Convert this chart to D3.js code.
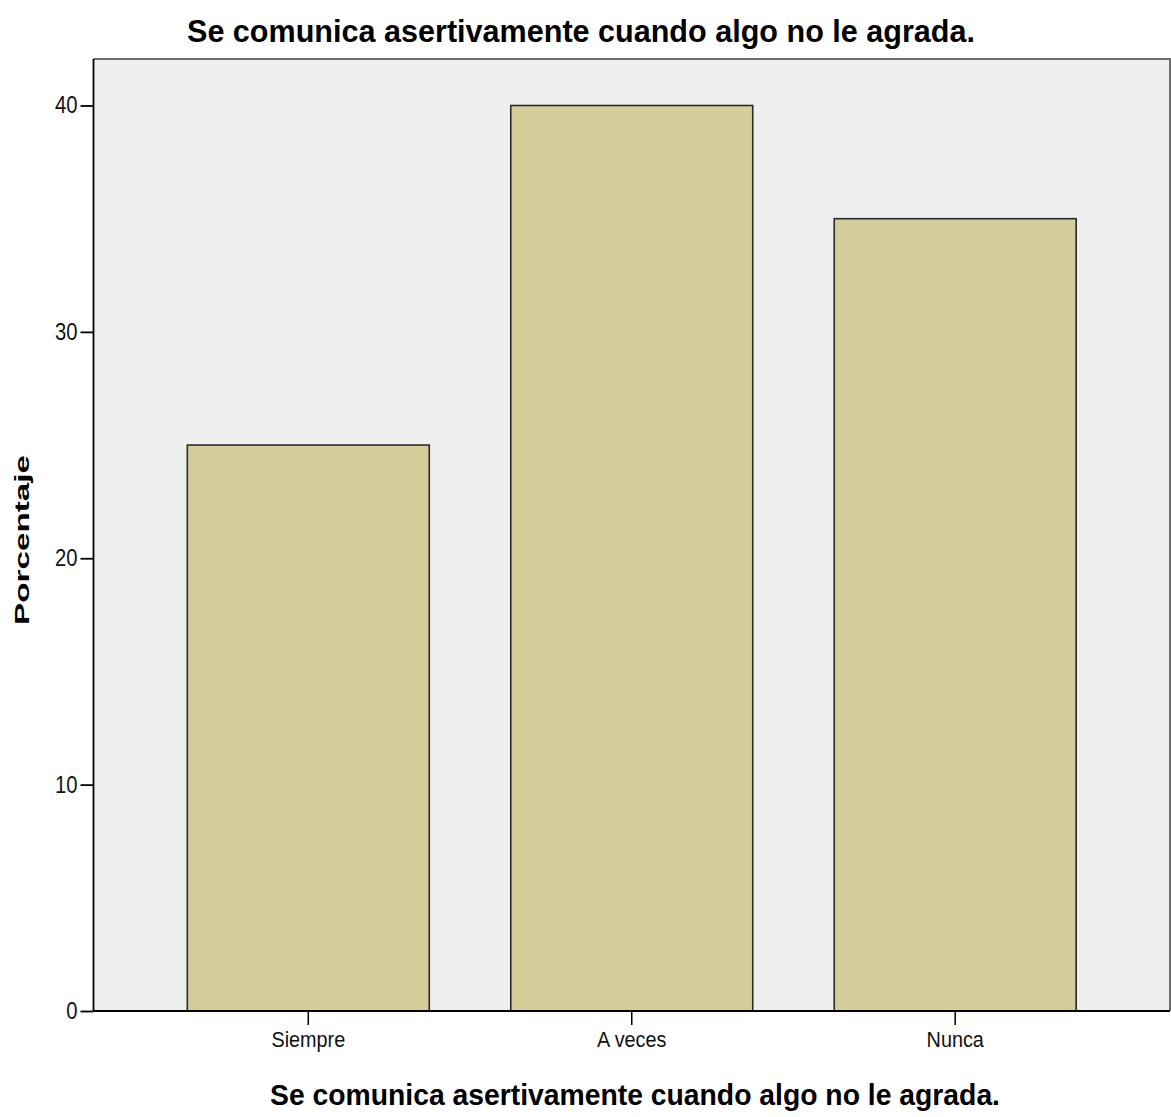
<!DOCTYPE html>
<html>
<head>
<meta charset="utf-8">
<script src="https://cdn.jsdelivr.net/npm/d3@7"></script>
<style>
html,body{margin:0;padding:0;background:#fff;}
svg{display:block;}
</style>
</head>
<body>
<script>
const categories = ["Siempre", "A veces", "Nunca"];
const values = [25, 40, 35];
const yTicks = [0, 10, 20, 30, 40];
const titleText = "Se comunica asertivamente cuando algo no le agrada.";
const xLabelText = "Se comunica asertivamente cuando algo no le agrada.";
const yLabelText = "Porcentaje";

const W = 1171, H = 1117;
const plot = {left: 93.5, right: 1170, top: 59, bottom: 1011};

const svg = d3.select("body").append("svg").attr("width", W).attr("height", H);

const x = d3.scaleBand().domain(categories)
  .range([plot.left, plot.right]).paddingInner(0.252).paddingOuter(0.29);
const y = d3.scaleLinear().domain([0, 40]).range([plot.bottom, 105.5]);

svg.append("rect").attr("x", plot.left).attr("y", plot.top)
  .attr("width", plot.right - plot.left).attr("height", plot.bottom - plot.top)
  .attr("fill", "#efefef");
svg.append("path")
  .attr("d", `M${plot.left},${plot.top}H${plot.right}V${plot.bottom}`)
  .attr("fill", "none").attr("stroke", "#6e6e6e").attr("stroke-width", 2);

svg.append("g").selectAll("rect").data(values).join("rect")
  .attr("x", (d, i) => x(categories[i]))
  .attr("width", x.bandwidth())
  .attr("y", d => y(d))
  .attr("height", d => y(0) - y(d))
  .attr("fill", "#d3ce97")
  .attr("stroke", "#2b2b2b").attr("stroke-width", 1.6);

const font = "Arial,'Liberation Sans',sans-serif";

function condense(sel, f) {
  sel.each(function() {
    const w = this.getComputedTextLength();
    d3.select(this).attr("textLength", w * f).attr("lengthAdjust", "spacingAndGlyphs");
  });
}

const yAxis = svg.append("g").attr("transform", `translate(${plot.left},0)`)
  .call(d3.axisLeft(y).tickValues(yTicks).tickSize(13).tickPadding(3).tickSizeOuter(0));
yAxis.select(".domain").attr("stroke", "#000").attr("stroke-width", 1.8)
  .attr("d", `M0,${plot.top}V${plot.bottom}`);
yAxis.selectAll(".tick line").attr("stroke", "#000").attr("stroke-width", 1.8);
yAxis.selectAll(".tick text").attr("font-family", font).attr("font-size", 23).attr("fill", "#111");
condense(yAxis.selectAll(".tick text"), 0.88);

const xAxis = svg.append("g").attr("transform", `translate(0,${plot.bottom})`)
  .call(d3.axisBottom(x).tickSize(14).tickPadding(6).tickSizeOuter(0));
xAxis.select(".domain").attr("stroke", "#000").attr("stroke-width", 1.8)
  .attr("d", `M${plot.left},0H${plot.right}`);
xAxis.selectAll(".tick line").attr("stroke", "#000").attr("stroke-width", 1.5);
xAxis.selectAll(".tick text").attr("font-family", font).attr("font-size", 22).attr("fill", "#111");
condense(xAxis.selectAll(".tick text"), 0.9);

svg.append("text").attr("x", 581).attr("y", 42).attr("text-anchor", "middle")
  .attr("font-family", font).attr("font-weight", "bold")
  .attr("font-size", 31).attr("fill", "#000")
  .attr("textLength", 788).attr("lengthAdjust", "spacingAndGlyphs")
  .text(titleText);

svg.append("text").attr("x", 635).attr("y", 1105).attr("text-anchor", "middle")
  .attr("font-family", font).attr("font-weight", "bold")
  .attr("font-size", 29).attr("fill", "#000")
  .attr("textLength", 730).attr("lengthAdjust", "spacingAndGlyphs")
  .text(xLabelText);

svg.append("text").attr("transform", "translate(29,540) rotate(-90)")
  .attr("text-anchor", "middle")
  .attr("font-family", font).attr("font-weight", "bold")
  .attr("font-size", 21).attr("fill", "#000")
  .attr("textLength", 170).attr("lengthAdjust", "spacingAndGlyphs")
  .text(yLabelText);
</script>
</body>
</html>
